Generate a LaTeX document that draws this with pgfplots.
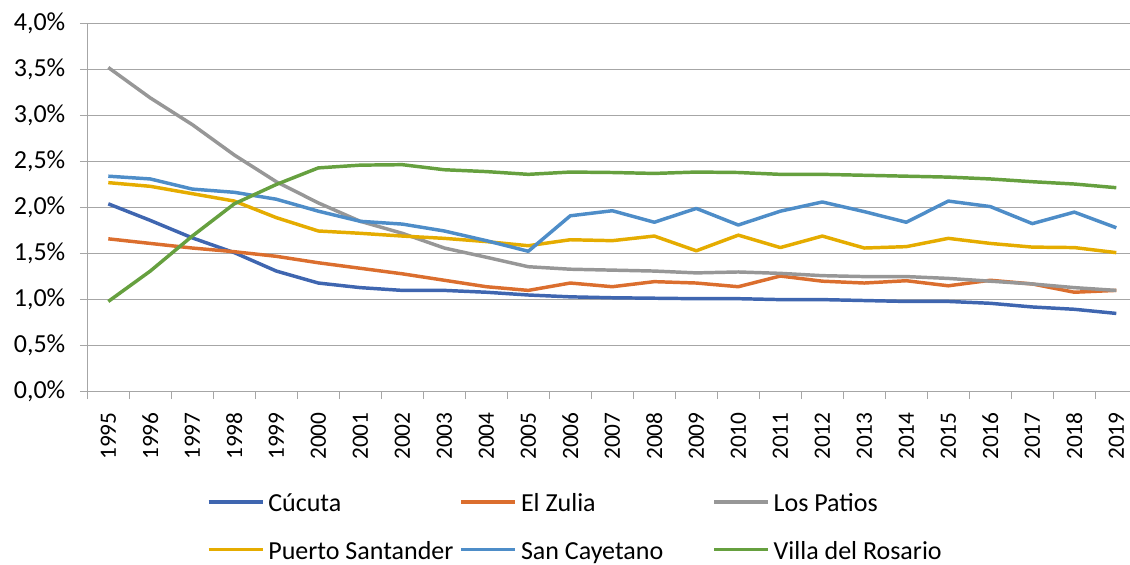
\documentclass[border=0pt]{standalone}
\usepackage{fontspec}
\setmainfont{Carlito}
\usepackage{pgfplots}
\usepackage{pgfplotstable}
\pgfplotsset{compat=1.18}
\definecolor{cCu}{HTML}{3F66B0}
\definecolor{cZu}{HTML}{DB6E2E}
\definecolor{cPa}{HTML}{979797}
\definecolor{cPS}{HTML}{E5AC00}
\definecolor{cSC}{HTML}{4E8DC8}
\definecolor{cVR}{HTML}{66A03F}
\definecolor{gridc}{HTML}{A6A6A6}
\pgfplotstableread{
year Cu Zu Pa PS SC VR
1995 2.04 1.66 3.52 2.27 2.34 0.98
1996 1.86 1.61 3.19 2.23 2.31 1.31
1997 1.67 1.56 2.90 2.15 2.20 1.69
1998 1.51 1.52 2.57 2.07 2.165 2.04
1999 1.31 1.47 2.28 1.89 2.09 2.25
2000 1.18 1.40 2.05 1.745 1.96 2.43
2001 1.13 1.34 1.85 1.72 1.85 2.46
2002 1.10 1.28 1.72 1.69 1.82 2.465
2003 1.10 1.21 1.56 1.665 1.745 2.41
2004 1.08 1.14 1.46 1.63 1.64 2.39
2005 1.05 1.10 1.357 1.585 1.525 2.36
2006 1.03 1.18 1.33 1.65 1.91 2.385
2007 1.02 1.14 1.32 1.64 1.965 2.38
2008 1.015 1.195 1.31 1.69 1.84 2.37
2009 1.01 1.18 1.29 1.53 1.99 2.385
2010 1.01 1.14 1.30 1.70 1.81 2.38
2011 1.00 1.256 1.285 1.565 1.96 2.36
2012 1.00 1.20 1.26 1.69 2.06 2.36
2013 0.99 1.18 1.25 1.56 1.955 2.35
2014 0.98 1.205 1.25 1.575 1.84 2.34
2015 0.98 1.15 1.23 1.665 2.07 2.33
2016 0.96 1.21 1.20 1.61 2.01 2.31
2017 0.92 1.17 1.17 1.57 1.825 2.28
2018 0.895 1.08 1.13 1.565 1.95 2.255
2019 0.85 1.10 1.10 1.51 1.78 2.215
}\data
\begin{document}
\begin{tikzpicture}
\useasboundingbox (0pt,0pt) rectangle (847.5pt,-423pt);
\begin{axis}[
  at={(65.475pt,-293.775pt)}, anchor=south west,
  width=787.5pt, height=276.3pt, scale only axis,
  xmin=1994.5, xmax=2019.5, ymin=0, ymax=4,
  axis lines*=left,
  axis line style={draw=gridc, line width=1pt},
  ymajorgrids,
  grid style={draw=gridc, line width=1pt},
  tick align=outside,
  major tick length=5.5pt,
  tick style={draw=gridc, line width=1pt},
  ytick={0,0.5,1,1.5,2,2.5,3,3.5,4},
  yticklabels={{0,0\%},{0,5\%},{1,0\%},{1,5\%},{2,0\%},{2,5\%},{3,0\%},{3,5\%},{4,0\%}},
  yticklabel style={font=\fontsize{19.5}{23}\selectfont, xshift=-7.5pt},
  xtick={1994.5,1995.5,...,2019.5},
  xticklabels={},
  extra x ticks={1995,1996,...,2019},
  extra x tick labels={1995,1996,1997,1998,1999,2000,2001,2002,2003,2004,2005,2006,2007,2008,2009,2010,2011,2012,2013,2014,2015,2016,2017,2018,2019},
  extra x tick style={grid=none, tick style={draw=none}, xticklabel shift=8.8pt,
    tick label style={rotate=90, anchor=east, inner sep=1pt, font=\fontsize{17.5}{21}\selectfont}},
  legend columns=3,
  legend cell align=left,
  legend style={draw=none, fill=none, inner sep=0pt, outer sep=0pt,
    at={(0.114,-0.267)}, anchor=north west,
    nodes={inner sep=0pt, font=\fontsize{19.5}{23.4}\selectfont},
    row sep=17.5pt,
    /tikz/every odd column/.style={column sep=3pt},
    /tikz/every even column/.style={column sep=0pt}},
  legend image code/.code={\draw[#1, line width=2.5pt] (0pt,0pt) -- (40.5pt,0pt);},
  every axis plot/.append style={line width=2.6pt, line join=round, no markers},
]
\addplot[cCu] table[x=year,y=Cu]{\data};
\addlegendentry{\makebox[143.5pt][l]{\strut Cúcuta}}
\addplot[cZu] table[x=year,y=Zu]{\data};
\addlegendentry{\makebox[143.5pt][l]{\strut El Zulia}}
\addplot[cPa] table[x=year,y=Pa]{\data};
\addlegendentry{\makebox[143.5pt][l]{\strut Los Patios}}
\addplot[cPS] table[x=year,y=PS]{\data};
\addlegendentry{\makebox[143.5pt][l]{\strut Puerto Santander}}
\addplot[cSC] table[x=year,y=SC]{\data};
\addlegendentry{\makebox[143.5pt][l]{\strut San Cayetano}}
\addplot[cVR] table[x=year,y=VR]{\data};
\addlegendentry{\makebox[143.5pt][l]{\strut Villa del Rosario}}
\end{axis}
\end{tikzpicture}
\end{document}
